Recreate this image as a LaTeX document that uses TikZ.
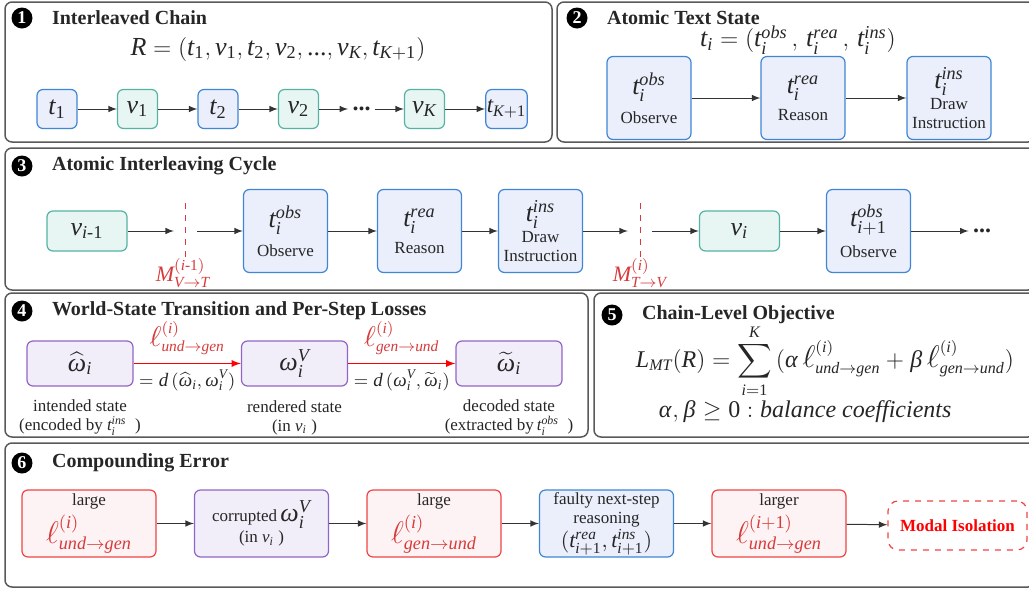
\documentclass[tikz,border=0pt]{standalone}
\usepackage{amsmath}
\usepackage{mathspec}
\setmainfont{Liberation Serif}
\setmathsfont(Digits,Latin,Greek){Liberation Serif}
\usetikzlibrary{arrows}
\definecolor{tblue}{HTML}{3F86D6}
\definecolor{tfill}{HTML}{EAEFFB}
\definecolor{vteal}{HTML}{55B3A3}
\definecolor{vfill}{HTML}{E7F6F3}
\definecolor{wpurp}{HTML}{9165C6}
\definecolor{wfill}{HTML}{F1EDF9}
\definecolor{ered}{HTML}{F04545}
\definecolor{efill}{HTML}{FEF3F4}
\definecolor{lred}{HTML}{D73A3A}
\def\ttlfont{\fontsize{10}{11}\selectfont\bfseries}
\def\txtfont{\fontsize{8.5}{9.5}\selectfont}
\def\bigmth{\fontsize{13}{15}\selectfont}
\def\midmth{\fontsize{11}{13}\selectfont}
\def\mth#1{{\bigmth$#1$}}
\def\bell{\mathord{\scalebox{1.3}{$\ell$}}}
\def\lug{\bell^{(i)}_{und\rightarrow gen}}
\def\lgu{\bell^{(i)}_{gen\rightarrow und}}

\begin{document}
\begin{tikzpicture}[x=0.5pt,y=-0.5pt,>=latex,font=\txtfont,text=black!85,
    panel/.style={draw=black!65,line width=0.75pt,rounded corners=3.5pt},
    badge/.style={circle,fill=black,text=white,inner sep=0pt,minimum size=10.5pt,font=\fontsize{9}{9}\selectfont\bfseries},
    ttl/.style={anchor=west,font=\ttlfont},
    rbox/.style={rounded corners=3pt,line width=0.6pt,align=center,inner sep=0.5pt},
    tbox/.style={rbox,draw=tblue,fill=tfill},
    vbox/.style={rbox,draw=vteal,fill=vfill},
    wbox/.style={rbox,draw=wpurp,fill=wfill},
    ebox/.style={rbox,draw=ered,fill=efill},
    small/.style={minimum width=20pt,minimum height=19.5pt,font=\bigmth},
    big/.style={minimum width=42pt,minimum height=41.5pt},
    flat/.style={minimum width=40pt,minimum height=20pt,font=\bigmth},
    wide/.style={minimum width=53pt,minimum height=22.5pt,font=\bigmth},
    mid/.style={minimum width=67pt,minimum height=33.5pt},
    dotdot/.style={font=\fontsize{12}{12}\selectfont\bfseries,inner sep=2pt},
    link/.style={->,draw=black!80,line width=0.5pt},
    rlink/.style={->,draw=red,line width=0.6pt},
    mcut/.style={draw=lred,dashed,line width=0.5pt}]
    \clip (0,0) rectangle (1029,590);

    % 1
    \draw[panel] (5,2) rectangle (552,142);
    \node[badge] (n1) at (22,18) {1};
    \node[ttl] (h1) at (45,18) {Interleaved Chain};
    \node[font=\bigmth] (chain) at (278,49) {$R = (t_1, v_1, t_2, v_2, \text{...}, v_K, t_{K+1})$};
    \begin{scope}[node distance=40.25pt]
        \draw (57,109) node[tbox,small] (t1) {$t_1$};
        \node[vbox,small,right of=t1] (v1) {$v_1$};
        \node[tbox,small,right of=v1] (t2) {$t_2$};
        \node[vbox,small,right of=t2] (v2) {$v_2$};
        \node[dotdot,right of=v2,node distance=31.5pt] (dots) {...};
        \node[vbox,small,right of=dots,node distance=31.5pt] (vK) {$v_K$};
        \node[tbox,small,right of=vK,node distance=41pt,font=\fontsize{11.5}{13}\selectfont] (tK) {$t_{K+1}$};

        \draw[link] (t1) to (v1);
        \draw[link] (v1) to (t2);
        \draw[link] (t2) to (v2);
        \draw[link] (v2) to (dots);
        \draw[link] (dots) to (vK);
        \draw[link] (vK) to (tK);
    \end{scope}

    % 2
    \draw[panel] (557,2) rectangle (1035,142);
    \node[badge] (n2) at (577,18) {2};
    \node[ttl] (h2) at (600,18) {Atomic Text State};
    \node[font=\bigmth] (tstate) at (798,40) {$t_i = (t_i^{obs}\,,\, t_i^{rea}\,,\, t_i^{ins})$};
    \draw (649,98) node[tbox,big] (obs) {\mth{t_i^{obs}}\\[4pt]Observe};
    \node[tbox,big,right of=obs,node distance=77pt] (rea) {\mth{t_i^{rea}}\\[4pt]Reason};
    \node[tbox,big,right of=rea,node distance=73pt] (ins) {\mth{t_i^{ins}}\\[1pt]Draw\\Instruction};
    \draw[link] (obs) to (rea);
    \draw[link] (rea) to (ins);

    % 3
    \draw[panel] (5,148) rectangle (1035,290);
    \node[badge] (n3) at (22,166) {3};
    \node[ttl] (h3) at (45,166) {Atomic Interleaving Cycle};
    \draw (87,231) node[vbox,flat] (vp) {$v_{i\text{-}1}$};
    \node[tbox,big,right of=vp,node distance=99.25pt] (obs3) {\mth{t_i^{obs}}\\[4pt]Observe};
    \node[tbox,big,right of=obs3,node distance=67pt] (rea3) {\mth{t_i^{rea}}\\[4pt]Reason};
    \node[tbox,big,right of=rea3,node distance=60.5pt] (ins3) {\mth{t_i^{ins}}\\[1pt]Draw\\Instruction};
    \node[vbox,flat,right of=ins3,node distance=99.5pt] (vi) {$v_i$};
    \node[tbox,big,right of=vi,node distance=64.5pt] (obs4) {\mth{t_{i+1}^{obs}}\\[4pt]Observe};
    \node[dotdot,right of=obs4,node distance=56.75pt] (dots3) {...};

    \coordinate (a1) at (174,231);
    \coordinate (a2) at (197,231);
    \coordinate (c1t) at (185,203);
    \coordinate (c1b) at (185,260);
    \coordinate (a3) at (628,231);
    \coordinate (a4) at (652,231);
    \coordinate (c2t) at (640,203);
    \coordinate (c2b) at (640,260);
    \draw[mcut] (c1t) -- (c1b);
    \draw[mcut] (c2t) -- (c2b);
    \node[text=lred,font=\midmth] (m1) at (183,273) {$M^{(i\text{-}1)}_{V\rightarrow T}$};
    \node[text=lred,font=\midmth] (m2) at (640,273) {$M^{(i)}_{T\rightarrow V}$};

    \draw[link] (vp) to (a1);
    \draw[link] (a2) to (obs3);
    \draw[link] (obs3) to (rea3);
    \draw[link] (rea3) to (ins3);
    \draw[link] (ins3) to (a3);
    \draw[link] (a4) to (vi);
    \draw[link] (vi) to (obs4);
    \draw[link] (obs4) to (dots3);

    % 4
    \draw[panel] (5,293) rectangle (588,437);
    \node[badge] (n4) at (22,311) {4};
    \node[ttl] (h4) at (45,311) {World-State Transition and Per-Step Losses};
    \begin{scope}[node distance=107.25pt]
        \draw (80,363.5) node[wbox,wide] (wh) {$\widehat{\omega}_i$};
        \node[wbox,wide,right of=wh] (wv) {$\omega_i^V$};
        \node[wbox,wide,right of=wv] (wt) {$\widetilde{\omega}_i$};
    \end{scope}
    \draw[rlink] (wh) to node[above=0.5pt,text=lred,font=\midmth] {$\lug$} node[below=2.5pt,inner sep=0.5pt,font=\fontsize{9.5}{12}\selectfont] {$= d\,(\widehat{\omega}_i, \omega_i^V)$} (wv);
    \draw[rlink] (wv) to node[above=0.5pt,text=lred,font=\midmth] {$\lgu$} node[below=2.5pt,inner sep=0.5pt,font=\fontsize{9.5}{12}\selectfont] {$= d\,(\omega_i^V, \widetilde{\omega}_i)$} (wt);
    \begin{scope}[node distance=27pt]
        \node[below of=wh,align=center] (cap1) {intended state\\(encoded by $t_i^{ins}$\ \ )};
        \node[below of=wv,align=center] (cap2) {rendered state\\(in $v_i$\ )};
        \node[below of=wt,align=center] (cap3) {decoded state\\(extracted by$\,t_i^{obs}$\ \ )};
    \end{scope}

    % 5
    \draw[panel] (594,293) rectangle (1035,437);
    \node[badge] (n5) at (612,315) {5};
    \node[ttl] (h5) at (635,315) {Chain-Level Objective};
    \node[font=\fontsize{12}{14}\selectfont] (obj) at (825,361) {$\displaystyle L_{MT}(R) = \sum_{i=1}^{K}\,(\alpha\,\lug + \beta\,\lgu)$};
    \node[font=\fontsize{12}{14}\selectfont] (coef) at (805,412) {$\alpha, \beta \geq 0 : \textit{balance coefficients}$};

    % 6
    \draw[panel] (5,443) rectangle (1035,587);
    \node[badge] (n6) at (22,463) {6};
    \node[ttl] (h6) at (45,463) {Compounding Error};
    \begin{scope}[node distance=86.25pt]
        \draw (89,523.5) node[ebox,mid] (e1) {large\\[2pt]{\color{lred}\mth{\lug}}};
        \node[wbox,mid,right of=e1] (e2) {corrupted\,\mth{\omega_i^V}\\(in $v_i$\ )};
        \node[ebox,mid,right of=e2] (e3) {large\\[2pt]{\color{lred}\mth{\lgu}}};
        \node[tbox,mid,right of=e3] (e4) {faulty next-step\\reasoning\\{\midmth$(t_{i+1}^{rea}, t_{i+1}^{ins})$}};
        \node[ebox,mid,right of=e4] (e5) {larger\\[2pt]{\color{lred}\mth{\bell^{(i+1)}_{und\rightarrow gen}}}};
        \node[rbox,draw=ered,dashed,fill=white,rounded corners=5pt,minimum width=69.5pt,minimum height=24.5pt,text=red,font=\fontsize{8.5}{10}\selectfont\bfseries,right of=e5,node distance=89.25pt,yshift=-1pt] (iso) {Modal Isolation};
    \end{scope}
    \draw[link] (e1) to (e2);
    \draw[link] (e2) to (e3);
    \draw[link] (e3) to (e4);
    \draw[link] (e4) to (e5);
    \draw[link] (e5) to (iso);
\end{tikzpicture}
\end{document}
